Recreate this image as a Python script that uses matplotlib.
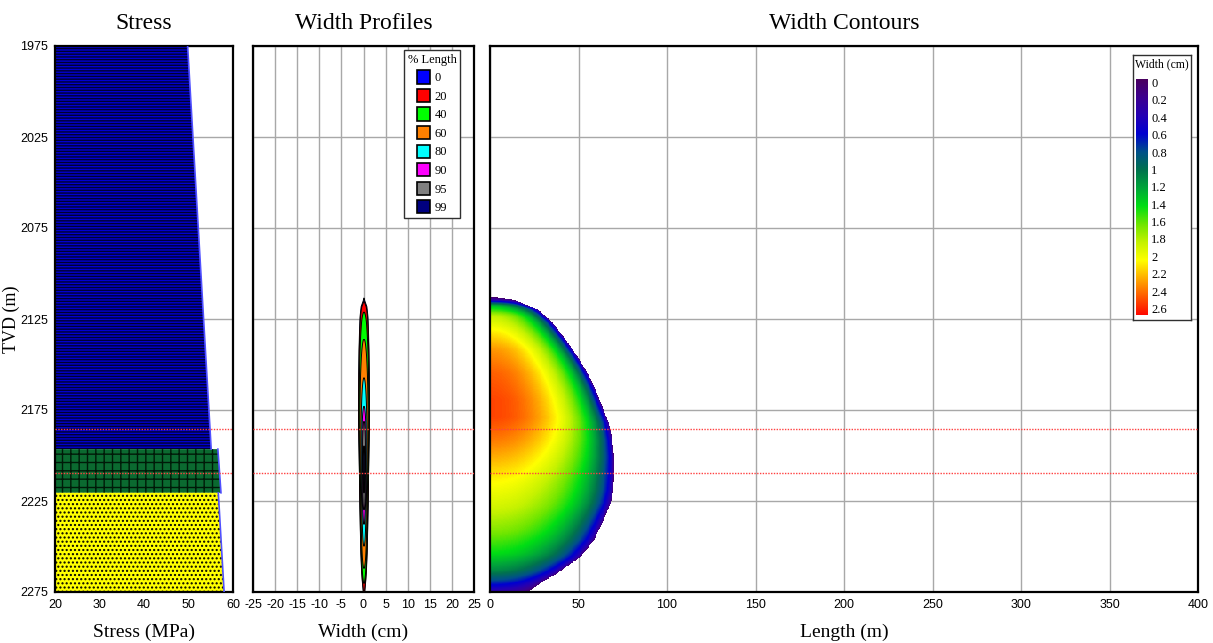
import numpy as np
import matplotlib

matplotlib.use("Agg")

import matplotlib.pyplot as plt
from matplotlib.colors import LinearSegmentedColormap
from matplotlib.patches import Patch

SERIF = ["Liberation Serif", "DejaVu Serif"]
NARROW = ["Liberation Sans Narrow", "Liberation Sans", "DejaVu Sans"]

plt.rcParams["hatch.linewidth"] = 1.0
plt.rcParams["axes.unicode_minus"] = False

depth_ticks = [1975, 2025, 2075, 2125, 2175, 2225, 2275]
perf_depths = [2185.5, 2209.5]

# stress layers: top / bottom depth (m), stress at top / bottom (MPa)
layer_top = [1975.0, 2196.5, 2220.5]
layer_bot = [2196.5, 2220.5, 2275.0]
stress_top = [49.8, 56.6, 56.7]
stress_bot = [55.1, 57.3, 58.0]
layer_face = ["#0000d0", "#0b6a30", "#ffff00"]
layer_hatch = ["------", "++", "...."]
layer_hatch_col = ["#000030", "#001a08", "#000000"]

# fracture outline: half-length (m) reached at each depth
frac_depth = [2113.0, 2114.6, 2120.1, 2127.2, 2136.5, 2145.7, 2154.7, 2164.0,
              2173.2, 2182.1, 2191.5, 2200.7, 2209.6, 2219.0, 2226.1, 2237.1,
              2246.4, 2255.6, 2264.6, 2270.1, 2273.9, 2278.0, 2281.0]
frac_half_len = [0.0, 13.0, 27.0, 35.0, 42.4, 49.0, 54.6, 59.3,
                 63.0, 66.7, 68.7, 69.7, 69.7, 69.3, 67.8, 63.0,
                 58.4, 50.8, 37.7, 28.0, 22.6, 12.0, 0.0]

# width at the wellbore (cm) against depth
well_depth = [2113.0, 2114.6, 2118.0, 2123.7, 2132.7, 2142.0, 2154.7, 2169.0,
              2179.0, 2191.5, 2204.0, 2215.0, 2228.0, 2241.0, 2253.6, 2262.9,
              2268.4, 2272.3, 2275.0, 2278.0, 2281.0]
well_width = [0.0, 0.3, 1.3, 1.8, 2.05, 2.25, 2.38, 2.45,
              2.45, 2.32, 2.15, 2.0, 1.85, 1.65, 1.4, 1.1,
              0.8, 0.5, 0.3, 0.15, 0.0]

pct_length = [0, 20, 40, 60, 80, 90, 95, 99]
pct_colors = ["#0000ff", "#ff0000", "#00ff00", "#ff8000",
              "#00ffff", "#ff00ff", "#808080", "#000080"]

width_levels = [0.0, 0.2, 0.4, 0.6, 0.8, 1.0, 1.2, 1.4, 1.6, 1.8, 2.0, 2.2, 2.4, 2.6]
width_colors = ["#4a0060", "#3c0090", "#2400b4", "#0000d0", "#00508a", "#00724e",
                "#00a63a", "#00de14", "#6ee600", "#c4f200", "#ffff00", "#ffac00",
                "#ff5a00", "#ff0a00"]

cmap = LinearSegmentedColormap.from_list(
    "width", list(zip(np.array(width_levels) / width_levels[-1], width_colors)))

W, H = 1213, 643
fig = plt.figure(figsize=(W / 100, H / 100), dpi=100)


def px_axes(x0, x1, y0, y1):
    return fig.add_axes([x0 / W, 1 - y1 / H, (x1 - x0) / W, (y1 - y0) / H])


ax_s = px_axes(55, 233, 46, 592)
ax_p = px_axes(253, 474, 46, 592)
ax_c = px_axes(490, 1198, 46, 592)

for ax in (ax_s, ax_p, ax_c):
    ax.set_ylim(2275, 1975)
    ax.set_yticks(depth_ticks)
    ax.tick_params(length=0, pad=5)
    ax.grid(True, color="#a8a8a8", linewidth=1.0)
    ax.set_axisbelow(True)
    for sp in ax.spines.values():
        sp.set_linewidth(1.6)
        sp.set_color("black")
    for d in perf_depths:
        ax.axhline(d, color="#ff4040", linestyle=(0, (1, 1)), linewidth=1.0, zorder=6)

# --- stress column ---
ax_s.set_xlim(20, 60)
ax_s.set_xticks([20, 30, 40, 50, 60])
ax_s.xaxis.grid(False)
for top, bot, s0, s1, fc, hat, hc in zip(layer_top, layer_bot, stress_top, stress_bot,
                                         layer_face, layer_hatch, layer_hatch_col):
    ax_s.fill_betweenx([top, bot], 20, [s0, s1], facecolor=fc, hatch=hat,
                       edgecolor=hc, linewidth=0, zorder=2)
    ax_s.plot([s0, s1], [top, bot], color="#5050ff", linewidth=1.2, zorder=3)
ax_s.set_yticklabels([str(d) for d in depth_ticks])
ax_s.set_ylabel("TVD (m)", fontfamily=SERIF, fontsize=13)
ax_s.yaxis.set_label_coords(-0.197, 0.5)
ax_s.set_xlabel("Stress (MPa)", fontfamily=SERIF, fontsize=14, labelpad=9)
ax_s.set_title("Stress", fontfamily=SERIF, fontsize=17, pad=12)

# --- width profiles ---
zz = np.arange(2110.0, 2282.0, 0.25)
half_len = np.interp(zz, frac_depth, frac_half_len)
w_well = np.interp(zz, well_depth, well_width)
l_max = max(frac_half_len)

ax_p.set_xlim(-25, 25)
ax_p.set_xticks(np.arange(-25, 26, 5))
ax_p.set_yticklabels([])
for pct, col in zip(pct_length, pct_colors):
    xp = pct / 100 * l_max
    ok = half_len > xp
    w = w_well[ok] * np.sqrt(1 - (xp / half_len[ok]) ** 2)
    ax_p.fill_betweenx(zz[ok], -w / 2, w / 2, facecolor=col, edgecolor="black",
                       linewidth=0.7, zorder=3)
handles = [Patch(facecolor=c, edgecolor="black", linewidth=1.2, label=str(p))
           for p, c in zip(pct_length, pct_colors)]
leg = ax_p.legend(handles=handles, title="% Length", loc="upper left",
                  bbox_to_anchor=(0.683, 0.993), prop={"family": SERIF, "size": 9},
                  title_fontproperties={"family": SERIF, "size": 9},
                  fancybox=False, framealpha=1, edgecolor="#303030",
                  handlelength=1.0, handleheight=1.25, handletextpad=0.4,
                  labelspacing=0.38, borderpad=0.3, borderaxespad=0)
leg.get_frame().set_linewidth(1.0)
leg.set_zorder(8)
ax_p.set_xlabel("Width (cm)", fontfamily=SERIF, fontsize=14, labelpad=9)
ax_p.set_title("Width Profiles", fontfamily=SERIF, fontsize=17, pad=12)

# --- width contours ---
xx = np.arange(0.0, 80.0, 0.5)
XX, ZZ = np.meshgrid(xx, zz)
L = np.interp(ZZ, frac_depth, frac_half_len)
W0 = np.interp(ZZ, well_depth, well_width)
inside = XX < L
field = np.full(XX.shape, np.nan)
field[inside] = W0[inside] * np.sqrt(1 - (XX[inside] / L[inside]) ** 2)
ax_c.imshow(field, cmap=cmap, vmin=0, vmax=2.6, origin="lower", aspect="auto",
            interpolation="nearest", extent=[xx[0], xx[-1] + 0.5, zz[0], zz[-1] + 0.25],
            zorder=2)
ax_c.set_xlim(0, 400)
ax_c.set_ylim(2275, 1975)
ax_c.set_xticks(np.arange(0, 401, 50))
ax_c.set_yticklabels([])
ax_c.set_xlabel("Length (m)", fontfamily=SERIF, fontsize=14, labelpad=9)
ax_c.set_title("Width Contours", fontfamily=SERIF, fontsize=17, pad=12)

for ax in (ax_s, ax_p, ax_c):
    for lbl in ax.get_xticklabels() + ax.get_yticklabels():
        lbl.set_fontfamily(NARROW)
        lbl.set_fontsize(9)

# colour key for the contour plot
kx0, kx1, ky0, ky1 = 1133, 1191, 55, 320
kax = px_axes(kx0, kx1, ky0, ky1)
kax.set_xticks([])
kax.set_yticks([])
for sp in kax.spines.values():
    sp.set_linewidth(1.0)
    sp.set_color("#303030")
grad = np.linspace(0, width_levels[-1], 256)[:, None]
kax.imshow(grad, cmap=cmap, aspect="auto", extent=[1136, 1148, 315, 80], origin="upper")
kax.set_xlim(kx0, kx1)
kax.set_ylim(ky1, ky0)
kax.text(1162, 64, "Width (cm)", ha="center", va="center", fontfamily=SERIF, fontsize=8.5)
for i, lev in enumerate(width_levels):
    yy = 84 + i * (310 - 84) / (len(width_levels) - 1)
    kax.text(1151, yy, f"{lev:g}", ha="left", va="center", fontfamily=SERIF, fontsize=9)

fig.savefig("out.png", dpi=100)
